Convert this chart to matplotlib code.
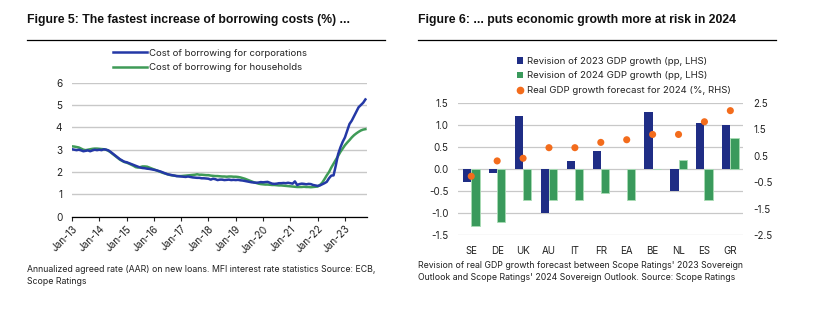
import matplotlib
matplotlib.use("Agg")
import matplotlib.pyplot as plt
from matplotlib.lines import Line2D
from matplotlib.patches import Patch
import numpy as np

plt.rcParams['font.family'] = ['Inter', 'DejaVu Sans']
plt.rcParams['axes.unicode_minus'] = False

# ---------------- data: Figure 5 (monthly, Jan-13 .. Oct-23) ----------------
corp_2013 = [3.02, 3.00, 2.98, 3.00, 2.97, 2.93, 2.95, 2.97, 2.93, 2.97, 3.00, 2.98]
corp_2014 = [3.00, 2.98, 3.02, 3.00, 2.97, 2.90, 2.82, 2.74, 2.66, 2.58, 2.52, 2.46]
corp_2015 = [2.44, 2.40, 2.36, 2.32, 2.28, 2.24, 2.20, 2.18, 2.17, 2.15, 2.14, 2.12]
corp_2016 = [2.10, 2.08, 2.05, 2.02, 1.98, 1.94, 1.90, 1.88, 1.86, 1.84, 1.82, 1.81]
corp_2017 = [1.80, 1.79, 1.78, 1.80, 1.78, 1.76, 1.75, 1.74, 1.74, 1.72, 1.72, 1.71]
corp_2018 = [1.70, 1.66, 1.70, 1.68, 1.64, 1.66, 1.66, 1.64, 1.65, 1.66, 1.64, 1.65]
corp_2019 = [1.64, 1.65, 1.63, 1.62, 1.60, 1.58, 1.56, 1.54, 1.53, 1.52, 1.53, 1.55]
corp_2020 = [1.54, 1.55, 1.56, 1.52, 1.48, 1.47, 1.48, 1.50, 1.50, 1.51, 1.50, 1.52]
corp_2021 = [1.50, 1.48, 1.58, 1.42, 1.46, 1.48, 1.47, 1.45, 1.47, 1.46, 1.42, 1.40]
corp_2022 = [1.38, 1.40, 1.45, 1.50, 1.56, 1.72, 1.84, 1.85, 2.30, 2.80, 3.10, 3.35]
corp_2023 = [3.55, 3.85, 4.15, 4.30, 4.50, 4.70, 4.90, 5.00, 5.10, 5.25]

hh_2013 = [3.15, 3.14, 3.12, 3.10, 3.05, 3.00, 2.98, 3.00, 3.02, 3.04, 3.05, 3.05]
hh_2014 = [3.04, 3.03, 3.02, 3.00, 2.95, 2.88, 2.80, 2.72, 2.64, 2.56, 2.50, 2.45]
hh_2015 = [2.42, 2.38, 2.33, 2.28, 2.22, 2.20, 2.22, 2.25, 2.25, 2.24, 2.20, 2.16]
hh_2016 = [2.12, 2.08, 2.04, 2.00, 1.96, 1.93, 1.90, 1.87, 1.85, 1.84, 1.82, 1.82]
hh_2017 = [1.82, 1.83, 1.84, 1.85, 1.86, 1.87, 1.88, 1.90, 1.88, 1.88, 1.87, 1.86]
hh_2018 = [1.86, 1.84, 1.83, 1.82, 1.82, 1.81, 1.80, 1.80, 1.79, 1.80, 1.80, 1.79]
hh_2019 = [1.79, 1.78, 1.76, 1.73, 1.70, 1.66, 1.62, 1.58, 1.54, 1.51, 1.48, 1.46]
hh_2020 = [1.45, 1.44, 1.44, 1.43, 1.42, 1.42, 1.41, 1.40, 1.40, 1.39, 1.38, 1.37]
hh_2021 = [1.36, 1.35, 1.34, 1.33, 1.33, 1.33, 1.34, 1.33, 1.33, 1.32, 1.33, 1.34]
hh_2022 = [1.35, 1.42, 1.52, 1.68, 1.85, 2.00, 2.20, 2.38, 2.55, 2.72, 2.90, 3.05]
hh_2023 = [3.20, 3.32, 3.43, 3.55, 3.65, 3.73, 3.80, 3.86, 3.90, 3.92]

year_labels = ["Jan-13", "Jan-14", "Jan-15", "Jan-16", "Jan-17", "Jan-18",
               "Jan-19", "Jan-20", "Jan-21", "Jan-22", "Jan-23"]

# ---------------- data: Figure 6 ----------------
countries = ["SE", "DE", "UK", "AU", "IT", "FR", "EA", "BE", "NL", "ES", "GR"]
rev_2023 = [-0.3, -0.1, 1.2, -1.0, 0.17, 0.4, 0.0, 1.3, -0.5, 1.05, 1.0]
rev_2024 = [-1.3, -1.2, -0.7, -0.7, -0.7, -0.55, -0.7, 0.0, 0.2, -0.7, 0.7]
gdp_2024 = [-0.28, 0.30, 0.40, 0.80, 0.80, 1.00, 1.10, 1.30, 1.30, 1.78, 2.20]

corp = (corp_2013 + corp_2014 + corp_2015 + corp_2016 + corp_2017 + corp_2018
        + corp_2019 + corp_2020 + corp_2021 + corp_2022 + corp_2023)
hh = (hh_2013 + hh_2014 + hh_2015 + hh_2016 + hh_2017 + hh_2018
      + hh_2019 + hh_2020 + hh_2021 + hh_2022 + hh_2023)

BLUE_L = "#2438a6"
GREEN_L = "#3f9b57"
NAVY = "#1f2d85"
GREEN_B = "#3a9a5c"
ORANGE = "#f36c1c"
GRID = "#c8c8c8"
TXT = "#222222"

W, H = 817, 322
fig = plt.figure(figsize=(W / 100, H / 100), dpi=100)

def fx(px):
    return px / W

def fy(py):
    return 1 - py / H

# titles + separators
title_font = dict(family=['Liberation Sans', 'DejaVu Sans'], weight='bold', size=8.8, color='#111111')
fig.text(fx(27), fy(20), "Figure 5: The fastest increase of borrowing costs (%) ...", ha='left', va='center', **title_font)
fig.text(fx(418), fy(20), "Figure 6: ... puts economic growth more at risk in 2024", ha='left', va='center', **title_font)
fig.add_artist(Line2D([fx(27), fx(385)], [fy(40), fy(40)], color='black', lw=0.9))
fig.add_artist(Line2D([fx(418), fx(776)], [fy(40), fy(40)], color='black', lw=0.9))

# ---------------- left chart ----------------
ax1 = fig.add_axes([fx(72), fy(216.7), fx(367) - fx(72), fy(82.7) - fy(216.7)])
x = np.arange(len(corp))
ax1.plot(x, hh, color=GREEN_L, lw=1.8, label="Cost of borrowing for households", zorder=3)
ax1.plot(x, corp, color=BLUE_L, lw=1.8, label="Cost of borrowing for corporations", zorder=4)
ax1.set_ylim(0, 6)
ax1.set_xlim(0, 129.7)
ax1.set_yticks(range(0, 7))
ax1.yaxis.grid(True, color=GRID, lw=1.0)
ax1.set_axisbelow(True)
for s in ['left', 'right', 'top']:
    ax1.spines[s].set_visible(False)
ax1.spines['bottom'].set_color('black')
ax1.spines['bottom'].set_linewidth(0.9)
ax1.tick_params(axis='y', length=0, labelsize=7.2, colors=TXT, pad=7)
ax1.set_xticks(np.arange(0, 121, 12))
ax1.set_xticklabels(year_labels, rotation=45, ha='right', rotation_mode='anchor')
ax1.tick_params(axis='x', length=3, width=0.8, labelsize=7.2, colors=TXT, pad=2)

h1 = [Line2D([], [], color=BLUE_L, lw=1.8), Line2D([], [], color=GREEN_L, lw=1.8)]
fig.legend(h1, ["Cost of borrowing for corporations", "Cost of borrowing for households"],
           loc='center', bbox_to_anchor=(fx(210), fy(60.5)), frameon=False,
           fontsize=6.9, handlelength=3.6, handletextpad=0.2, labelspacing=0.6,
           labelcolor=TXT)

fig.text(fx(27), fy(269), "Annualized agreed rate (AAR) on new loans. MFI interest rate statistics Source: ECB,",
         ha='left', va='center', fontsize=6.3, color=TXT)
fig.text(fx(27), fy(281.5), "Scope Ratings", ha='left', va='center', fontsize=6.3, color=TXT)

# ---------------- right chart ----------------
ax2 = fig.add_axes([fx(458.3), fy(235), fx(743.3) - fx(458.3), fy(102.7) - fy(235)])
pos = np.arange(len(countries))
bw = 0.32
ax2.bar(pos - bw / 2, rev_2023, width=bw, color=NAVY, zorder=3,
        label="Revision of 2023 GDP growth (pp, LHS)")
ax2.bar(pos + bw / 2, rev_2024, width=bw, color=GREEN_B, edgecolor='#a8dcb4', linewidth=0.6, zorder=3,
        label="Revision of 2024 GDP growth (pp, LHS)")
ax2.set_xlim(-0.5, len(countries) - 0.5)
ax2.set_ylim(-1.5, 1.5)
ax2.set_yticks(np.arange(-1.5, 1.51, 0.5))
ax2.set_yticklabels([f"{v:.1f}" for v in np.arange(-1.5, 1.51, 0.5)])
ax2.yaxis.grid(True, color=GRID, lw=0.9)
ax2.set_axisbelow(True)
for s in ax2.spines.values():
    s.set_visible(False)
ax2.set_xticks(pos)
ax2.set_xticklabels(countries)
ax2.tick_params(axis='x', length=0, labelsize=7, colors=TXT, pad=8)
ax2.tick_params(axis='y', length=0, labelsize=7, colors=TXT, pad=7)

ax3 = ax2.twinx()
ax3.scatter(pos, gdp_2024, s=26, color=ORANGE, zorder=5, edgecolors='none')
ax3.set_ylim(-2.5, 2.5)
rt = [2.5, 1.5, 0.5, -0.5, -1.5, -2.5]
ax3.set_yticks(rt)
ax3.set_yticklabels([f"{v:.1f}" for v in rt])
for s in ax3.spines.values():
    s.set_visible(False)
ax3.tick_params(axis='y', length=0, labelsize=7, colors=TXT, pad=7)

h2 = [Patch(facecolor=NAVY), Patch(facecolor=GREEN_B),
      Line2D([], [], marker='o', ls='', color=ORANGE, markersize=4.5)]
fig.legend(h2, ["Revision of 2023 GDP growth (pp, LHS)", "Revision of 2024 GDP growth (pp, LHS)",
                "Real GDP growth forecast for 2024 (%, RHS)"],
           loc='upper left', bbox_to_anchor=(fx(508), fy(48)), frameon=False,
           fontsize=6.9, handlelength=0.7, handleheight=0.7, handletextpad=0.4, labelspacing=0.6,
           labelcolor=TXT)

fig.text(fx(418), fy(265), "Revision of real GDP growth forecast between Scope Ratings' 2023 Sovereign",
         ha='left', va='center', fontsize=6.3, color=TXT)
fig.text(fx(418), fy(277.7), "Outlook and Scope Ratings' 2024 Sovereign Outlook. Source: Scope Ratings",
         ha='left', va='center', fontsize=6.3, color=TXT)

fig.savefig("out.png", dpi=100)
